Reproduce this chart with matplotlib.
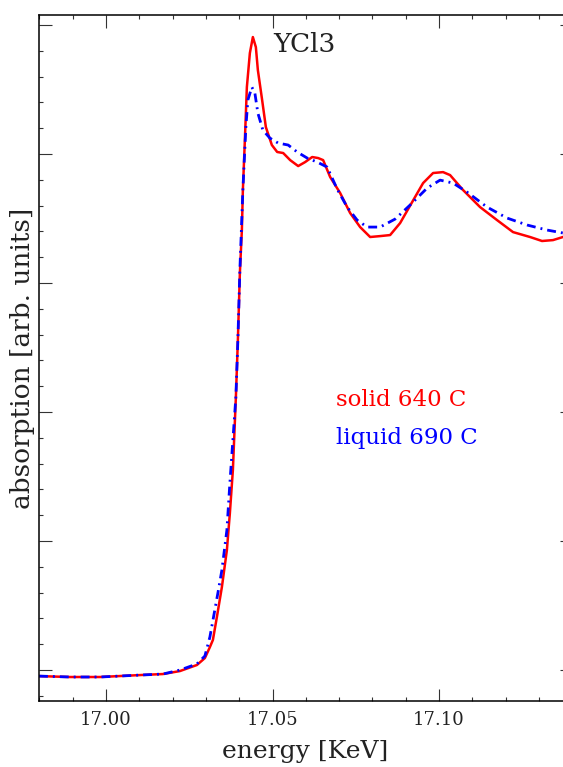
import numpy as np
import matplotlib
matplotlib.use('Agg')
from matplotlib import pyplot as plt
from matplotlib.ticker import MultipleLocator, FormatStrFormatter

# solid 640 C
e_solid = [16.9799, 16.9892, 16.9982, 17.0102, 17.0171, 17.0222, 17.0273, 17.0297,
           17.0312, 17.0321, 17.0333, 17.0348, 17.0363, 17.0372, 17.0381, 17.0390,
           17.0396, 17.0402, 17.0408, 17.0411, 17.0417, 17.0423, 17.0432, 17.0441,
           17.0450, 17.0456, 17.0468, 17.0480, 17.0498, 17.0514, 17.0532, 17.0553,
           17.0577, 17.0598, 17.0619, 17.0637, 17.0652, 17.0673, 17.0703, 17.0733,
           17.0763, 17.0793, 17.0823, 17.0853, 17.0883, 17.0913, 17.0952, 17.0982,
           17.1012, 17.1033, 17.1072, 17.1123, 17.1174, 17.1222, 17.1273, 17.1309,
           17.1342, 17.1372]
mu_solid = [-0.047, -0.054, -0.054, -0.039, -0.031, -0.008, 0.039, 0.093,
            0.178, 0.233, 0.411, 0.643, 0.930, 1.217, 1.550, 2.116,
            2.558, 3.078, 3.411, 3.721, 4.109, 4.519, 4.783, 4.907,
            4.829, 4.651, 4.434, 4.209, 4.070, 4.016, 4.008, 3.953,
            3.907, 3.938, 3.977, 3.969, 3.953, 3.822, 3.698, 3.543,
            3.434, 3.357, 3.364, 3.372, 3.465, 3.600, 3.775, 3.853,
            3.860, 3.837, 3.721, 3.589, 3.488, 3.395, 3.357, 3.326,
            3.333, 3.357]

# liquid 690 C
e_liquid = [16.9799, 16.9892, 16.9982, 17.0102, 17.0171, 17.0222, 17.0273, 17.0297,
            17.0312, 17.0336, 17.0348, 17.0363, 17.0372, 17.0381, 17.0390, 17.0396,
            17.0402, 17.0411, 17.0420, 17.0426, 17.0438, 17.0447, 17.0456, 17.0471,
            17.0492, 17.0517, 17.0547, 17.0574, 17.0604, 17.0634, 17.0664, 17.0694,
            17.0724, 17.0754, 17.0784, 17.0823, 17.0868, 17.0913, 17.0964, 17.1003,
            17.1042, 17.1084, 17.1144, 17.1204, 17.1264, 17.1324, 17.1372]
mu_liquid = [-0.047, -0.054, -0.054, -0.039, -0.031, 0.000, 0.047, 0.109,
             0.256, 0.597, 0.775, 1.085, 1.450, 1.783, 2.116, 2.558,
             3.101, 3.721, 4.209, 4.419, 4.519, 4.473, 4.318, 4.186,
             4.124, 4.085, 4.070, 4.016, 3.969, 3.938, 3.899, 3.729,
             3.589, 3.488, 3.434, 3.434, 3.496, 3.605, 3.736, 3.798,
             3.775, 3.705, 3.589, 3.504, 3.450, 3.411, 3.388]

plt.rcParams['font.family'] = ['DejaVu Serif']
txt = '#222222'

fig = plt.figure(figsize=(5.63, 7.67), dpi=100)
ax = fig.add_axes([39/563, 1-701/767, (572-39)/563, (701-15)/767])

ax.plot(e_solid, mu_solid, color='red', lw=1.8)
ax.plot(e_liquid, mu_liquid, color='blue', lw=2.0, linestyle=(0, (3.2, 1.8, 0.7, 1.8)))

ax.set_xlim(16.9799, 17.1399)
ax.set_ylim(-0.240, 5.078)

ax.xaxis.set_major_locator(MultipleLocator(0.05))
ax.xaxis.set_minor_locator(MultipleLocator(0.01))
ax.xaxis.set_major_formatter(FormatStrFormatter('%.2f'))
ax.yaxis.set_major_locator(MultipleLocator(1))
ax.yaxis.set_minor_locator(MultipleLocator(0.2))
ax.tick_params(which='both', direction='in', top=True, right=True, colors='#333333',
               labelleft=False, labelcolor=txt, labelsize=13, pad=7)
ax.tick_params(which='major', length=9, width=0.8)
ax.tick_params(which='minor', length=3.2, width=0.8)
for s in ax.spines.values():
    s.set_linewidth(1.1)
    s.set_color('black')

ax.set_xlabel('energy [KeV]', fontsize=18, color=txt, labelpad=8)
ax.set_ylabel('absorption [arb. units]', fontsize=19, color=txt, labelpad=3)

ax.text(17.0502, 4.791, 'YCl3', fontsize=19, color=txt, va='baseline')
ax.text(17.0691, 2.047, 'solid 640 C', fontsize=16.5, color='red', va='baseline')
ax.text(17.0691, 1.752, 'liquid 690 C', fontsize=16.5, color='blue', va='baseline')

fig.savefig('out.png', dpi=100)
